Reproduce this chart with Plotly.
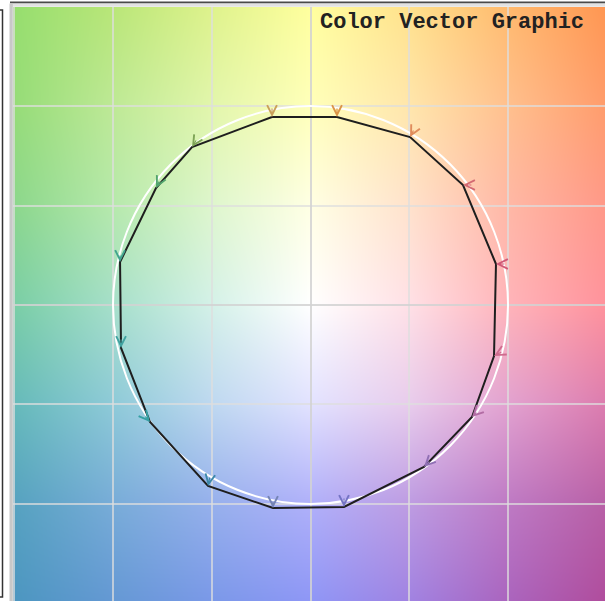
import zlib, struct, base64
import numpy as np
import plotly.graph_objects as go

# ---------------- data ----------------
# measured points (polygon vertices), in chart units (grid = 1)
meas_x = [-0.390, 0.268, 1.008, 1.544, 1.878, 1.858, 1.635, 1.149,
          0.339, -0.380, -1.038, -1.625, -1.919, -1.929, -1.565, -1.200]
meas_y = [1.889, 1.889, 1.688, 1.206, 0.412, -0.513, -1.126, -1.628,
          -2.030, -2.040, -1.819, -1.176, -0.432, 0.432, 1.176, 1.588]
# reference points the little vectors start from
ref_x = [-0.390, 0.268, 1.050, 1.644, 1.978, 1.948, 1.695, 1.219,
         0.339, -0.380, -1.018, -1.685, -1.919, -1.929, -1.525, -1.150]
ref_y = [1.989, 1.989, 1.768, 1.206, 0.412, -0.463, -1.066, -1.558,
         -1.930, -1.960, -1.719, -1.106, -0.332, 0.512, 1.256, 1.668]
arrow_colors = ["#C9A05A", "#DC9448", "#E08C5C", "#D46A72", "#D05A78", "#CF6C8E",
                "#B26CA4", "#9070B4", "#7474C4", "#7484B4", "#3C88A8", "#34A0A4",
                "#40A2A0", "#42A48E", "#52A46E", "#7EA456"]
ref_radius = 2.0

# background colour samples at grid nodes (rows y = 3..-3, cols x = -3..3)
bg_samples = [
    [(150, 222, 110), (185, 230, 120), (222, 242, 140), (255, 255, 158), (255, 225, 140), (255, 186, 110), (255, 150, 82)],
    [(150, 220, 120), (190, 233, 150), (226, 246, 172), (255, 255, 186), (255, 230, 172), (255, 192, 142), (255, 156, 108)],
    [(140, 215, 140), (182, 233, 172), (222, 246, 205), (255, 255, 228), (255, 226, 204), (255, 184, 166), (255, 152, 136)],
    [(122, 206, 166), (166, 223, 202), (212, 241, 232), (255, 255, 255), (255, 224, 230), (255, 180, 186), (255, 146, 156)],
    [(102, 186, 186), (142, 202, 216), (190, 216, 240), (226, 226, 255), (232, 204, 236), (226, 162, 208), (220, 124, 174)],
    [(86, 162, 192), (120, 172, 216), (150, 176, 236), (176, 176, 250), (190, 156, 226), (190, 122, 196), (184, 96, 166)],
    [(76, 150, 192), (100, 152, 212), (122, 152, 232), (142, 150, 246), (160, 130, 226), (170, 100, 190), (176, 76, 156)],
]

title_text = "Color Vector Graphic"

# ---------------- layout constants ----------------
W, H = 605, 601
L_M, T_M = 13, 7
PW, PH = W - L_M, H - T_M
XR = [-3.013, 2.982]
YR = [-2.975, 2.995]


def png_data_uri(arr):
    h, w, _ = arr.shape
    raw = b"".join(b"\x00" + arr[i].tobytes() for i in range(h))

    def chunk(tag, data):
        c = struct.pack(">I", len(data)) + tag + data
        return c + struct.pack(">I", zlib.crc32(tag + data) & 0xFFFFFFFF)

    png = (b"\x89PNG\r\n\x1a\n"
           + chunk(b"IHDR", struct.pack(">IIBBBBB", w, h, 8, 2, 0, 0, 0))
           + chunk(b"IDAT", zlib.compress(raw, 9))
           + chunk(b"IEND", b""))
    return "data:image/png;base64," + base64.b64encode(png).decode()


# build background image by interpolating the samples
S = np.array(bg_samples, dtype=float)  # 7x7x3
xs = np.linspace(XR[0], XR[1], PW)
ys = np.linspace(YR[1], YR[0], PH)
GX, GY = np.meshgrid(xs, ys)
fx = np.clip(GX + 3, 0, 6 - 1e-9)
fy = np.clip(3 - GY, 0, 6 - 1e-9)
i0 = np.floor(fx).astype(int)
j0 = np.floor(fy).astype(int)
tx = (fx - i0)[..., None]
ty = (fy - j0)[..., None]
c00 = S[j0, i0]
c01 = S[j0, i0 + 1]
c10 = S[j0 + 1, i0]
c11 = S[j0 + 1, i0 + 1]
img = (c00 * (1 - tx) * (1 - ty) + c01 * tx * (1 - ty) + c10 * (1 - tx) * ty + c11 * tx * ty)
img = np.clip(np.round(img), 0, 255).astype(np.uint8)
bg_uri = png_data_uri(img)

fig = go.Figure()

# polygon of measured points
fig.add_trace(go.Scatter(
    x=meas_x + [meas_x[0]], y=meas_y + [meas_y[0]], mode="lines",
    line=dict(color="#1e1e1e", width=2), hoverinfo="skip", showlegend=False))

shapes = []
# reference circle
shapes.append(dict(type="circle", xref="x", yref="y", x0=-ref_radius, y0=-ref_radius,
                   x1=ref_radius, y1=ref_radius, line=dict(color="white", width=2), layer="between"))


def px_x(p):
    return (p - L_M) / PW


def px_y(p):
    return (H - p) / PH


# frame decorations
shapes.append(dict(type="line", xref="paper", yref="paper", x0=px_x(10), x1=px_x(606),
                   y0=px_y(2.5), y1=px_y(2.5), line=dict(color="#4a4a4a", width=2)))
shapes.append(dict(type="rect", xref="paper", yref="paper", x0=px_x(10), x1=px_x(606),
                   y0=px_y(6.8), y1=px_y(3.5), line=dict(width=0), fillcolor="#e2e2e2"))
shapes.append(dict(type="rect", xref="paper", yref="paper", x0=px_x(9.5), x1=px_x(12.8),
                   y0=px_y(602), y1=px_y(3.5), line=dict(width=0), fillcolor="#c8c8c8"))
shapes.append(dict(type="rect", xref="paper", yref="paper", x0=px_x(-20), x1=px_x(2.5),
                   y0=px_y(597), y1=px_y(10), line=dict(color="#333333", width=1.5)))

annotations = []
for mx, my, rx, ry, col in zip(meas_x, meas_y, ref_x, ref_y, arrow_colors):
    annotations.append(dict(x=mx, y=my, ax=rx, ay=ry, xref="x", yref="y", axref="x", ayref="y",
                            text="", showarrow=True, arrowhead=5, arrowsize=1.6, arrowwidth=1.2,
                            arrowcolor=col, standoff=0, startstandoff=0))

annotations.append(dict(text=title_text, xref="paper", yref="paper", x=px_x(318), y=px_y(8),
                        xanchor="left", yanchor="top", showarrow=False,
                        font=dict(family="Liberation Mono, Courier New, monospace", size=22,
                                  color="#222222", weight="bold")))

grid_col = "rgba(222,222,222,0.72)"
fig.update_layout(
    width=W, height=H,
    margin=dict(l=L_M, r=0, t=T_M, b=0, pad=0),
    paper_bgcolor="white", plot_bgcolor="white",
    showlegend=False,
    shapes=shapes, annotations=annotations,
    images=[dict(source=bg_uri, xref="x", yref="y", x=XR[0], y=YR[1],
                 sizex=XR[1] - XR[0], sizey=YR[1] - YR[0], sizing="stretch",
                 layer="below", xanchor="left", yanchor="top")],
    xaxis=dict(range=XR, dtick=1, tick0=0, showgrid=True, gridcolor=grid_col,
               gridwidth=1.5, zeroline=True, zerolinecolor="rgba(210,210,210,0.85)", zerolinewidth=1.5,
               showticklabels=False, ticks="", showline=False, fixedrange=True),
    yaxis=dict(range=YR, dtick=1, tick0=0, showgrid=True, gridcolor=grid_col,
               gridwidth=1.5, zeroline=True, zerolinecolor="rgba(210,210,210,0.85)", zerolinewidth=1.5,
               showticklabels=False, ticks="", showline=False, fixedrange=True),
)

fig.write_html("out.html", config={"displayModeBar": False},
               post_script="document.body.style.margin='0px';document.body.style.overflow='hidden';")
